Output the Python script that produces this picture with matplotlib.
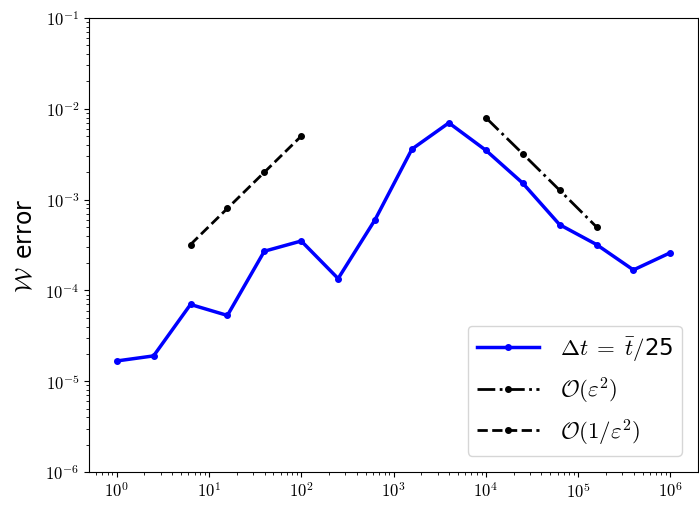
import numpy as np
import matplotlib
matplotlib.use("Agg")
import matplotlib.pyplot as plt
from matplotlib.ticker import FuncFormatter

plt.rcParams["mathtext.fontset"] = "cm"

# blue curve, dt = tbar/25
eps_x = [1.0, 2.512, 6.31, 15.85, 39.81, 100.0, 251.2, 631.0, 1585.0, 3981.0,
         1.0e4, 2.512e4, 6.31e4, 1.585e5, 3.981e5, 1.0e6]
w_err = [1.67e-5, 1.9e-5, 7.0e-5, 5.3e-5, 2.7e-4, 3.5e-4, 1.35e-4, 6.0e-4,
         3.6e-3, 7.0e-3, 3.5e-3, 1.52e-3, 5.3e-4, 3.2e-4, 1.68e-4, 2.6e-4]

# reference slopes
ref_eps2_x = [1.0e4, 2.512e4, 6.31e4, 1.585e5]
ref_eps2_y = [8.0e-3, 3.2e-3, 1.27e-3, 5.0e-4]
ref_inv_x = [6.31, 15.85, 39.81, 100.0]
ref_inv_y = [3.2e-4, 8.0e-4, 2.0e-3, 5.0e-3]

fig = plt.figure(figsize=(6.99, 5.10), dpi=100)
ax = fig.add_axes([89 / 699, 1 - 473 / 510, (698 - 89) / 699, (473 - 19) / 510])

ax.loglog(eps_x, w_err, "-o", color="blue", lw=2.5, ms=4,
          label=r"$\Delta t\;=\;\bar{t}/$25")
ax.loglog(ref_eps2_x, ref_eps2_y, "-.o", color="black", lw=2, ms=4,
          label=r"$\mathcal{O}(\varepsilon^2)$")
ax.loglog(ref_inv_x, ref_inv_y, "--o", color="black", lw=2, ms=4,
          label=r"$\mathcal{O}(1/\varepsilon^2)$")

ax.set_ylim(1e-6, 1e-1)
ax.set_xlim(10 ** -0.3, 10 ** 6.3)

fmt = FuncFormatter(lambda v, p: r"$10^{%d}$" % int(round(np.log10(v))))
ax.xaxis.set_major_formatter(fmt)
ax.yaxis.set_major_formatter(fmt)
ax.tick_params(axis="both", which="major", labelsize=12)

ax.set_ylabel(r"$\mathcal{W}\,$ error", fontsize=17, labelpad=6)
ax.set_xlabel(r"$\varepsilon$", fontsize=17, labelpad=2)

ax.legend(loc="lower right", fontsize=16.5, handlelength=2.7,
          handletextpad=0.9, borderaxespad=0.7)

fig.savefig("out.png", dpi=100)
